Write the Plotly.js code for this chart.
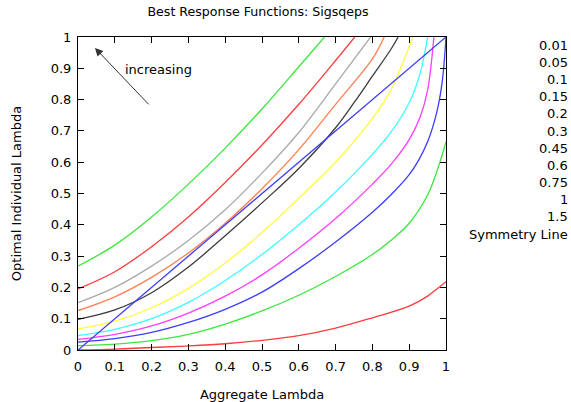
<!DOCTYPE html>
<html>
<head>
<meta charset="utf-8">
<script src="https://cdn.plot.ly/plotly-3.0.1.min.js"></script>
<style>html,body{margin:0;padding:0;background:#fff;}#chart{width:571px;height:402px;}</style>
</head>
<body>
<div id="chart"></div>
<script>
var seriesLabels = ["0.01","0.05","0.1","0.15","0.2","0.3","0.45","0.6","0.75","1","1.5"];
var seriesColors = ["#ff3c3c","#3ce63c","#3c3cff","#ff3cff","#3cffff","#ffff3c","#3c3c3c","#ff7f50","#a9a9a9","#ff3c3c","#3ce63c"];

var x001 = [0,0.1,0.2,0.3,0.4,0.5,0.6,0.7,0.8,0.9,0.95,0.975,1.0];
var y001 = [0.0,0.003,0.008,0.013,0.02,0.031,0.046,0.07,0.103,0.14,0.172,0.195,0.218];

var x005 = [0,0.1,0.2,0.3,0.4,0.5,0.6,0.7,0.8,0.85,0.9,0.95,0.975,1.0];
var y005 = [0.014,0.019,0.03,0.05,0.083,0.125,0.175,0.235,0.305,0.35,0.405,0.495,0.57,0.665];

var x010 = [0,0.1,0.2,0.3,0.4,0.5,0.6,0.7,0.8,0.85,0.9,0.925,0.95,0.975,0.99,1.0];
var y010 = [0.025,0.036,0.056,0.088,0.13,0.185,0.26,0.345,0.44,0.495,0.56,0.605,0.665,0.76,0.86,1.0];

var x015 = [0,0.1,0.2,0.3,0.4,0.5,0.6,0.7,0.8,0.85,0.9,0.93,0.95,0.967];
var y015 = [0.034,0.05,0.077,0.118,0.172,0.24,0.325,0.42,0.53,0.592,0.672,0.745,0.83,1.0];

var x020 = [0,0.1,0.2,0.3,0.4,0.5,0.6,0.7,0.8,0.85,0.9,0.93,0.95];
var y020 = [0.046,0.066,0.1,0.152,0.222,0.305,0.4,0.505,0.625,0.695,0.79,0.885,1.0];

var x030 = [0,0.1,0.2,0.3,0.4,0.5,0.6,0.7,0.8,0.85,0.88,0.91];
var y030 = [0.067,0.092,0.135,0.197,0.278,0.375,0.485,0.6,0.74,0.83,0.91,1.0];

var x045 = [0,0.1,0.2,0.3,0.4,0.5,0.6,0.7,0.75,0.8,0.85,0.87];
var y045 = [0.098,0.128,0.183,0.265,0.365,0.47,0.58,0.71,0.79,0.875,0.96,1.0];

var x060 = [0,0.1,0.2,0.3,0.4,0.5,0.6,0.7,0.8,0.832];
var y060 = [0.126,0.17,0.232,0.31,0.405,0.515,0.64,0.785,0.93,1.0];

var x075 = [0,0.1,0.2,0.3,0.4,0.5,0.6,0.7,0.795];
var y075 = [0.151,0.2,0.268,0.35,0.448,0.565,0.695,0.85,1.0];

var x100 = [0,0.1,0.2,0.3,0.4,0.5,0.6,0.7,0.752];
var y100 = [0.195,0.25,0.33,0.425,0.535,0.655,0.785,0.925,1.0];

var x150 = [0,0.1,0.2,0.3,0.4,0.5,0.6,0.67];
var y150 = [0.268,0.335,0.425,0.53,0.645,0.77,0.905,1.0];

var xSym = [0,1];
var ySym = [0,1];

var xTicks = [0,0.1,0.2,0.3,0.4,0.5,0.6,0.7,0.8,0.9,1];
var xTickText = ["0","0.1","0.2","0.3","0.4","0.5","0.6","0.7","0.8","0.9","1"];
var yTicks = [0,0.1,0.2,0.3,0.4,0.5,0.6,0.7,0.8,0.9,1];
var yTickText = ["0","0.1","0.2","0.3","0.4","0.5","0.6","0.7","0.8","0.9","1"];

var xs = [x001,x005,x010,x015,x020,x030,x045,x060,x075,x100,x150];
var ys = [y001,y005,y010,y015,y020,y030,y045,y060,y075,y100,y150];

var traces = [];
for (var i = 0; i < xs.length; i++) {
  traces.push({x: xs[i], y: ys[i], mode: 'lines', name: seriesLabels[i],
    line: {color: seriesColors[i], width: 1.3, shape: 'spline', smoothing: 1}, showlegend: false, hoverinfo: 'none'});
}
traces.push({x: xSym, y: ySym, mode: 'lines', name: 'Symmetry Line',
  line: {color: '#3c3cff', width: 1.3}, showlegend: false, hoverinfo: 'none'});

var legendLabels = seriesLabels.concat(["Symmetry Line"]);
var FONT = 'DejaVu Sans, sans-serif';
var annotations = [];
for (var j = 0; j < legendLabels.length; j++) {
  annotations.push({xref: 'paper', yref: 'paper', x: 1 + (570 - 446) / 368, y: (350 - (45 + j * 17.2)) / 313,
    text: legendLabels[j], showarrow: false, xanchor: 'right', yanchor: 'middle',
    font: {family: FONT, size: 13, color: '#000'}});
}
annotations.push({x: 0.046, y: 0.965, ax: 0.196, ay: 0.78, axref: 'x', ayref: 'y', xref: 'x', yref: 'y',
  text: '', showarrow: true, arrowhead: 2, arrowsize: 1.6, arrowwidth: 1, arrowcolor: '#333'});
annotations.push({x: 0.123, y: 0.897, xref: 'x', yref: 'y', text: 'increasing', showarrow: false,
  xanchor: 'left', yanchor: 'middle', font: {family: FONT, size: 13, color: '#000'}});

var axisCommon = {showgrid: false, zeroline: false, showline: true, linecolor: '#000', linewidth: 1,
  mirror: 'allticks', ticks: 'inside', ticklen: 6, tickcolor: '#000', tickwidth: 1,
  tickfont: {family: FONT, size: 13, color: '#000'}};

var layout = {
  width: 571, height: 402,
  margin: {l: 78, r: 125, t: 37, b: 52},
  paper_bgcolor: '#fff', plot_bgcolor: '#fff',
  title: {text: 'Best Response Functions: Sigsqeps', font: {family: FONT, size: 12.6, color: '#000'}, x: 258/571, xanchor: 'center', y: 1 - 12/402, yanchor: 'middle'},
  xaxis: Object.assign({}, axisCommon, {range: [0, 1], tickvals: xTicks, ticktext: xTickText, ticklabelstandoff: 4,
    title: {text: 'Aggregate Lambda', font: {family: FONT, size: 13, color: '#000'}, standoff: 18}}),
  yaxis: Object.assign({}, axisCommon, {range: [0, 1], tickvals: yTicks, ticktext: yTickText, ticklabelstandoff: 3,
    title: {text: 'Optimal Individual Lambda', font: {family: FONT, size: 13, color: '#000'}, standoff: 26}}),
  annotations: annotations
};

Plotly.newPlot('chart', traces, layout, {displayModeBar: false, staticPlot: true});
</script>
</body>
</html>
